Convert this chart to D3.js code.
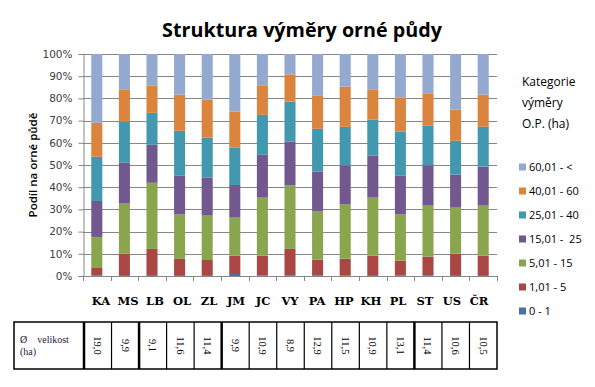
<!DOCTYPE html>
<html><head><meta charset="utf-8">
<script src="https://cdn.jsdelivr.net/npm/d3@7"></script>
<style>
html,body{margin:0;padding:0;background:#fff;}
svg{display:block;}
</style></head>
<body>
<svg id="c" width="595" height="387"></svg>
<script>
const categories = ["KA","MS","LB","OL","ZL","JM","JC","VY","PA","HP","KH","PL","ST","US","ČR"];
const seriesNames = ["0 - 1","1,01 - 5","5,01 - 15","15,01 -  25","25,01 - 40","40,01 - 60","60,01 - <"];
const s0_1   = [0.3,0.4,0.4,0.4,0.4,0.9,0.3,0.3,0.3,0.3,0.4,0.3,0.3,0.4,0.4];
const s1_5   = [3.3,9.7,11.8,7.3,6.8,8.3,8.9,11.9,7.1,7.5,8.8,6.6,8.4,9.7,8.8];
const s5_15  = [14.0,22.5,29.8,20.0,20.0,17.1,26.1,28.6,21.9,24.4,26.1,20.8,23.0,20.7,22.5];
const s15_25 = [16.2,18.4,17.1,17.6,17.2,14.7,19.3,19.8,17.8,17.6,19.0,17.6,18.1,14.9,17.6];
const s25_40 = [19.9,18.6,14.4,20.1,18.0,16.9,18.0,18.0,19.2,17.4,16.2,19.8,18.0,15.2,17.9];
const s40_60 = [15.3,14.5,12.2,16.3,17.1,16.2,13.3,12.2,15.1,18.1,13.6,15.4,14.5,14.1,14.5];
const s60    = [31.0,15.9,14.3,18.3,20.5,25.9,14.1,9.2,18.6,14.7,15.9,19.5,17.7,25.0,18.3];
const avgSize = ["19,0","9,9","9,1","11,6","11,4","9,9","10,9","8,9","12,9","11,5","10,9","13,1","11,4","10,6","10,5"];
const yTicks = [0,0.1,0.2,0.3,0.4,0.5,0.6,0.7,0.8,0.9,1];
const colors = ["#4572A7","#AA4643","#89A54E","#71588F","#4198AF","#DB843D","#93A9CF"];

const allSeries = [s0_1,s1_5,s5_15,s15_25,s25_40,s40_60,s60];
const rows = categories.map((c,i)=>{
  const r = {cat:c};
  seriesNames.forEach((n,j)=> r[n] = allSeries[j][i]);
  return r;
});
const stack = d3.stack().keys(seriesNames).offset(d3.stackOffsetExpand)(rows);

const svg = d3.select("#c");
const L = 83, R = 497, T = 54, B = 276;
const x = d3.scaleBand().domain(categories).range([L,R]).paddingInner(0.6).paddingOuter(0.3);
const xb = d3.scaleBand().domain(categories).range([L,R]);
const y = d3.scaleLinear().domain([0,1]).range([B,T]);

// title
const title = svg.append("text").attr("x",302).attr("y",37).attr("text-anchor","middle")
  .attr("font-family","Open Sans, Liberation Sans, sans-serif").attr("font-weight","bold")
  .attr("font-size",18).attr("fill","#000").text("Struktura výměry orné půdy");
const tw = title.node().getComputedTextLength();
title.attr("font-size", 18*280/tw);

// gridlines
svg.append("g").selectAll("line").data(yTicks.slice(1)).join("line")
  .attr("x1",L).attr("x2",R).attr("y1",d=>Math.round(y(d))+0.5).attr("y2",d=>Math.round(y(d))+0.5)
  .attr("stroke","#868686").attr("stroke-width",1);

// y axis
const yAxis = svg.append("g").attr("transform",`translate(${L+0.5},0)`)
  .call(d3.axisLeft(y).tickValues(yTicks).tickFormat(d3.format(".0%")).tickSize(5).tickPadding(6));
yAxis.select(".domain").attr("stroke","#868686");
yAxis.selectAll(".tick line").attr("stroke","#868686");
yAxis.selectAll("text").attr("font-family","DejaVu Sans, sans-serif").attr("font-size",10.5).attr("fill","#404040");

// x axis line and ticks
svg.append("line").attr("x1",L).attr("x2",R).attr("y1",B+0.5).attr("y2",B+0.5).attr("stroke","#868686");
svg.append("g").selectAll("line").data(categories.concat(["__end"])).join("line")
  .attr("x1",(d,i)=> Math.round(L + i*xb.bandwidth())+0.5)
  .attr("x2",(d,i)=> Math.round(L + i*xb.bandwidth())+0.5)
  .attr("y1",B).attr("y2",B+5).attr("stroke","#868686");

// bars
svg.append("g").selectAll("g").data(stack).join("g").attr("fill",(d,i)=>colors[i])
  .selectAll("rect").data(d=>d).join("rect")
  .attr("x",d=>x(d.data.cat)).attr("width",x.bandwidth())
  .attr("y",d=>y(d[1])).attr("height",d=>Math.max(0,y(d[0])-y(d[1])));

// y axis title
svg.append("text").attr("transform","translate(37,165) rotate(-90)").attr("text-anchor","middle")
  .attr("font-family","Open Sans, sans-serif").attr("font-weight","600").attr("font-size",11.5)
  .attr("fill","#000").text("Podíl na orné půdě");

// category labels (separate text row)
const xl = d3.scalePoint().domain(categories).range([101,479]);
svg.append("g").selectAll("text").data(categories).join("text")
  .attr("x",d=>xl(d)).attr("y",305).attr("text-anchor","middle")
  .attr("font-family","DejaVu Serif, serif").attr("font-weight","bold").attr("font-size",11.5)
  .attr("fill","#000").text(d=>d);

// table
const tT = 322, tB = 369, tL = 14;
const xt = d3.scaleBand().domain(categories).range([84,497]);
const tg = svg.append("g");
tg.append("rect").attr("x",tL).attr("y",tT).attr("width",497-tL).attr("height",tB-tT)
  .attr("fill","none").attr("stroke","#000").attr("stroke-width",1.5);
const thick = new Set(["KA","LB","JM","ST"]);
tg.selectAll("line.col").data(categories).join("line").attr("class","col")
  .attr("x1",d=>xt(d)).attr("x2",d=>xt(d)).attr("y1",tT).attr("y2",tB)
  .attr("stroke","#000").attr("stroke-width",d=>thick.has(d)?2.5:1.2);
tg.selectAll("text.v").data(categories).join("text").attr("class","v")
  .attr("transform",(d)=>`translate(${xt(d)+xt.bandwidth()/2},${(tT+tB)/2}) rotate(90)`)
  .attr("text-anchor","middle").attr("dy","0.35em")
  .attr("font-family","Liberation Serif, serif").attr("font-size",10.5).attr("fill","#000")
  .text((d,i)=>avgSize[i]);
tg.append("text").attr("x",20).attr("y",343).attr("font-family","Liberation Serif, serif")
  .attr("font-size",10).attr("fill","#1a1a3a").style("white-space","pre").text("Ø    velikost");
tg.append("text").attr("x",20).attr("y",355).attr("font-family","Liberation Serif, serif")
  .attr("font-size",10).attr("fill","#1a1a3a").text("(ha)");

// legend
const lg = svg.append("g");
["Kategorie","výměry","O.P. (ha)"].forEach((t,i)=>{
  lg.append("text").attr("x",522).attr("y",86+i*21).attr("font-family","Open Sans, sans-serif")
    .attr("font-size",12).attr("fill","#000").text(t);
});
const legendOrder = seriesNames.slice().reverse();
const ly = d3.scalePoint().domain(legendOrder).range([167,311]);
const li = lg.selectAll("g.item").data(legendOrder).join("g").attr("class","item");
li.append("rect").attr("x",519).attr("y",d=>ly(d)-3.5).attr("width",7).attr("height",7)
  .attr("fill",d=>colors[seriesNames.indexOf(d)]);
li.append("text").attr("x",529).attr("y",d=>ly(d)).attr("dy","0.35em")
  .attr("font-family","Open Sans, sans-serif").attr("font-size",11).attr("fill","#000")
  .style("white-space","pre").text(d=>d);
</script>
</body></html>
